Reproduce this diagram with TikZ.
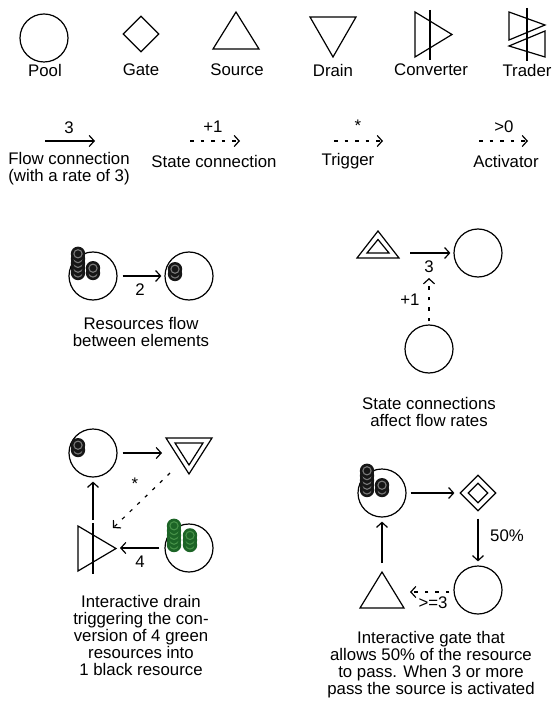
\documentclass[tikz,border=0pt]{standalone}
\usepackage{fontspec}
\setmainfont{Liberation Sans}
\usetikzlibrary{arrows.meta,shapes.geometric}
\definecolor{tokblack}{RGB}{22,22,22}
\definecolor{tokgrey}{RGB}{120,120,120}
\definecolor{tokgreen}{RGB}{28,100,38}
\definecolor{tokgreenring}{RGB}{70,145,72}
\newcommand\mystack[5]{%
  \foreach \i in {1,...,#3}{%
    \pgfmathsetmacro\yy{#2-(\i-1)*4.8}%
    \fill[#4] (#1,\yy) circle[radius=7.2pt];
    \draw[#5,line width=1.1pt] (#1,\yy) circle[radius=4.1pt];
  }}
\begin{document}
\begin{tikzpicture}[x=1pt,y=-1pt,line width=1.2pt,line join=miter,
  pool/.style={circle,draw,minimum size=48pt,inner sep=0pt},
  gatebox/.style={diamond,draw,minimum width=#1,minimum height=#1,inner sep=0pt},
  flow/.style={-{Straight Barb[length=5pt,width=11pt]},line width=1.2pt},
  statecon/.style={flow,dash pattern=on 3.5pt off 7pt},
  lbl/.style={font=\fontsize{16.8}{17}\selectfont,align=center,inner sep=0pt}]
\path[use as bounding box] (0,0) rectangle (552,708);
% ---------- row 1: element legend ----------
\node[pool] (pool0) at (44,38) {};
\node[gatebox=36pt] (gate0) at (141,34) {};
\coordinate (source0) at (236,30);
\draw (236,12) -- (259,49) -- (213,49) -- cycle;
\coordinate (drain0) at (333,37);
\draw (310,17) -- (356,17) -- (333,57) -- cycle;
\coordinate (conv0) at (430,35);
\draw (415,12) -- (452,34.5) -- (415,57) -- cycle;
\draw (430,10) -- (430,60);
\coordinate (trader0) at (527,36);
\draw (509,12) -- (545,25) -- (509,40) -- cycle;
\draw (545,31) -- (545,57) -- (509,46) -- cycle;
\draw (527,8) -- (527,61);
\node[lbl] (t1) at (45,70) {Pool};
\node[lbl] (t2) at (141,70) {Gate};
\node[lbl] (t3) at (237,70) {Source};
\node[lbl] (t4) at (333,70) {Drain};
\node[lbl] (t5) at (431,70) {Converter};
\node[lbl] (t6) at (527,70) {Trader};
% ---------- row 2: connection legend ----------
\coordinate (fa) at (45,141); \coordinate (fb) at (95,141);
\draw[flow] (fa) -- (fb);
\node[lbl] at (69,128) {3};
\node[lbl] at (69,169) {Flow connection\\(with a rate of 3)};
\coordinate (sa) at (190,141); \coordinate (sb) at (240,141);
\draw[statecon] (sa) -- (sb);
\node[lbl] at (213,127) {+1};
\node[lbl] at (214,161) {State connection};
\coordinate (ta) at (334,141); \coordinate (tb) at (383,141);
\draw[statecon] (ta) -- (tb);
\node[lbl] at (358,126) {*};
\node[lbl] at (348,161) {Trigger};
\coordinate (aa) at (479,141); \coordinate (ab) at (528,141);
\draw[statecon] (aa) -- (ab);
\node[lbl] at (504,127) {>0};
\node[lbl] at (506,161) {Activator};
% ---------- example 1 ----------
\node[pool] (p1) at (93,276) {};
\node[pool] (p2) at (189,276) {};
\mystack{78}{273}{5}{tokblack}{tokgrey}
\mystack{93}{273}{2}{tokblack}{tokgrey}
\mystack{175}{274}{2}{tokblack}{tokgrey}
\draw[flow,shorten <=5pt,shorten >=3pt] (p1) -- (p2);
\node[lbl] at (140,290) {2};
\node[lbl] at (141,332) {Resources flow\\between elements};
% ---------- example 2 ----------
\coordinate (s2) at (378,248);
\draw (378,231) -- (399,258) -- (357,258) -- cycle;
\draw (378,239.5) -- (389,253) -- (367,253) -- cycle;
\node[pool] (p3) at (478,253) {};
\coordinate (s2out) at (410,253);
\draw[flow,shorten >=3pt] (s2out) -- (p3);
\node[lbl] at (429,267) {3};
\node[pool] (p4) at (429,349) {};
\coordinate (s2tip) at (429,278);
\draw[statecon,shorten <=3pt] (p4) -- (s2tip);
\node[lbl] at (410,300) {+1};
\node[lbl] at (429,412) {State connections\\affect flow rates};
% ---------- example 3 ----------
\node[pool] (p5) at (93,453) {};
\mystack{78}{450}{2}{tokblack}{tokgrey}
\coordinate (d3) at (189,453);
\draw (166,438) -- (212,438) -- (189,474) -- cycle;
\draw (175,443) -- (203,443) -- (189,465) -- cycle;
\coordinate (d3in) at (162,453);
\draw[flow,shorten <=5pt] (p5) -- (d3in);
\coordinate (cv3) at (93,548);
\draw (78,526) -- (116,548.5) -- (78,571) -- cycle;
\draw (93,523) -- (93,574);
\coordinate (cv3top) at (93,520);
\draw[flow,shorten >=4pt] (cv3top) -- (p5);
\node[pool] (p6) at (189,548) {};
\mystack{174}{545}{5}{tokgreen}{tokgreenring}
\mystack{190}{545}{3}{tokgreen}{tokgreenring}
\coordinate (cv3in) at (120,548);
\draw[flow,shorten <=5pt] (p6) -- (cv3in);
\node[lbl] at (140,562) {4};
\coordinate (d3out) at (170,473);
\coordinate (cv3trig) at (113,528);
\draw[statecon] (d3out) -- (cv3trig);
\node[lbl] at (135,484) {*};
\node[lbl] at (141,635) {Interactive drain\\triggering the con-\\version of 4 green\\resources into\\1 black resource};
% ---------- example 4 ----------
\node[pool] (p7) at (382,493) {};
\mystack{367}{490}{5}{tokblack}{tokgrey}
\mystack{382}{490}{2}{tokblack}{tokgrey}
\node[gatebox=36pt] (g4) at (478,493) {};
\node[gatebox=20pt] (g4in) at (478,493) {};
\draw[flow,shorten <=4pt,shorten >=5pt] (p7) -- (g4);
\node[pool] (p8) at (478,590) {};
\draw[flow,shorten <=7pt,shorten >=4pt] (g4) -- (p8);
\node[lbl] at (507,536) {50\%};
\coordinate (s4) at (382,596);
\draw (382,572) -- (404,608) -- (360,608) -- cycle;
\coordinate (s4top) at (382,563);
\draw[flow,shorten >=4pt] (s4top) -- (p7);
\coordinate (s4in) at (410,592);
\draw[statecon,shorten <=4pt] (p8.west |- s4in) -- (s4in);
\node[lbl] at (433,603) {>=3};
\node[lbl] at (431,665) {Interactive gate that\\allows 50\% of the resource\\to pass. When 3 or more\\pass the source is activated};
\end{tikzpicture}
\end{document}
